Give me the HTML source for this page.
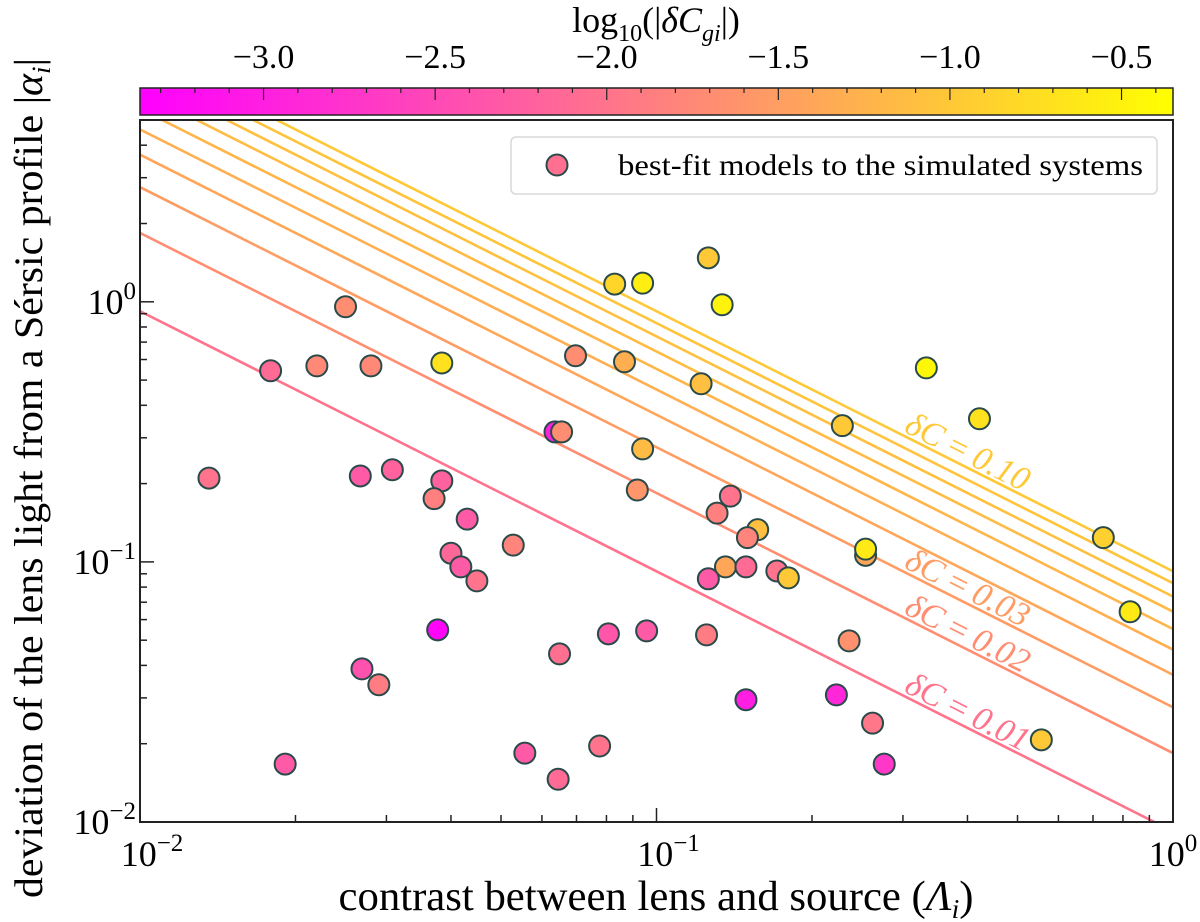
<!DOCTYPE html>
<html><head><meta charset="utf-8"><style>
html,body{margin:0;padding:0;background:#fff;}
svg{display:block;font-family:"Liberation Serif","DejaVu Serif",serif;}
</style></head><body>
<svg id="chart" width="1200" height="922" viewBox="0 0 1200 922" xmlns="http://www.w3.org/2000/svg">
<defs><linearGradient id="cmap" x1="0" x2="1" y1="0" y2="0"><stop offset="0" stop-color="#ff00ff"/><stop offset="1" stop-color="#ffff00"/></linearGradient>
<clipPath id="plotclip"><rect x="140" y="120" width="1033" height="702"/></clipPath></defs>
<g id="cbar"></g>
<g id="lines" clip-path="url(#plotclip)"></g>
<g id="points"></g>
<g id="axes"></g>
</svg>
<script>
// data
const lambdaVals=[0.0250,0.0179,0.0220,0.0280,0.0384,0.0136,0.0267,0.0308,0.0384,0.0371,0.0430,0.0400,0.0418,0.0449,0.0377,0.0269,0.0290,0.0191,0.126,0.0830,0.0940,0.134,0.0697,0.0867,0.122,0.0636,0.0655,0.0940,0.229,0.0918,0.139,0.131,0.157,0.150,0.0528,0.136,0.149,0.126,0.171,0.180,0.0807,0.0957,0.125,0.0649,0.149,0.223,0.0556,0.0776,0.0645,0.254,0.254,0.733,0.826,0.236,0.262,0.276,0.556,0.333,0.422];
const alphaVals=[0.957,0.543,0.567,0.567,0.582,0.210,0.214,0.226,0.205,0.175,0.146,0.108,0.0957,0.0845,0.0548,0.0388,0.0337,0.0167,1.476,1.17,1.18,0.974,0.620,0.588,0.484,0.316,0.316,0.272,0.334,0.189,0.179,0.154,0.133,0.124,0.116,0.0957,0.0957,0.0861,0.0923,0.0868,0.0529,0.0543,0.0524,0.0443,0.0295,0.0308,0.0184,0.0196,0.0146,0.106,0.112,0.124,0.0643,0.0497,0.0240,0.0167,0.0207,0.557,0.355];
const logDC=[-1.7,-2.1,-1.75,-1.75,-0.7,-2.0,-2.3,-2.2,-2.2,-1.85,-2.3,-2.15,-2.3,-2.0,-3.3,-2.4,-1.9,-2.3,-1.0,-0.85,-0.55,-0.5,-1.7,-1.3,-1.1,-3.0,-1.7,-1.15,-1.0,-1.6,-2.0,-1.85,-1.1,-1.8,-1.8,-1.4,-2.1,-2.3,-2.0,-1.0,-2.35,-2.3,-1.9,-2.05,-3.0,-2.9,-2.3,-2.0,-2.1,-1.4,-0.6,-0.9,-0.6,-1.65,-1.95,-2.7,-1.0,-0.45,-0.7];
const contourLevels=[0.01,0.02,0.03,0.04,0.05,0.06,0.07,0.08,0.09,0.10];
const contourK=0.92; // alpha*Lambda = contourK*dC
const labeledLevels=[0.01,0.02,0.03,0.10];
const xTicks=[-2,-1,0];
const yTicks=[-2,-1,0];
const cbTicks=[-3.0,-2.5,-2.0,-1.5,-1.0,-0.5];
const cbMin=-3.36, cbMax=-0.35;

const NS="http://www.w3.org/2000/svg";
const X0=140,X1=1173,Y0=120,Y1=822;
const xLmin=-2,xLmax=0, yLmin=-2, yLmax=Math.log10(5);
function sx(v){return X0+(Math.log10(v)-xLmin)/(xLmax-xLmin)*(X1-X0);}
function sy(v){return Y1-(Math.log10(v)-yLmin)/(yLmax-yLmin)*(Y1-Y0);}
function cmap(l){let t=(l-cbMin)/(cbMax-cbMin);t=Math.max(0,Math.min(1,t));return `rgb(255,${Math.round(255*t)},${Math.round(255*(1-t))})`;}
function mk(tag,attrs,parent){const e=document.createElementNS(NS,tag);for(const k in attrs)e.setAttribute(k,attrs[k]);parent.appendChild(e);return e;}
const cbar=document.getElementById('cbar'),linesG=document.getElementById('lines'),pts=document.getElementById('points'),axes=document.getElementById('axes');

// colorbar
let cb=mk('rect',{x:X0,y:88,width:X1-X0,height:27,fill:'url(#cmap)',stroke:'#222','stroke-width':1.5},cbar);


function cbx(v){return X0+(v-cbMin)/(cbMax-cbMin)*(X1-X0);}
function cbCheckMajor(v){return cbTicks.some(c=>Math.abs(c-v)<0.01);}
for(let v=-3.3;v<=-0.35;v+=0.1){const x=cbx(v);const major=cbCheckMajor(v);const t=mk('line',{x1:x,x2:x,y1:88,y2:major?100:93,stroke:'#222','stroke-width':1.2},cbar);}
cbTicks.forEach(v=>{const t=mk('text',{x:cbx(v),y:68,'font-size':34,'text-anchor':'middle',fill:'#000'},cbar);t.textContent='\u2212'+Math.abs(v).toFixed(1);});
let cbt=mk('text',{x:656,y:32,'font-size':36,'text-anchor':'middle',fill:'#000'},cbar);
cbt.innerHTML='log<tspan font-size="24" dy="9">10</tspan><tspan dy="-9">(|</tspan><tspan font-style="italic">δC</tspan><tspan font-size="24" dy="9" font-style="italic">gi</tspan><tspan dy="-9">|)</tspan>';



// contour lines
contourLevels.forEach(d=>{const col=cmap(Math.log10(d));const la=0.005,lb=1.1;
 const l=mk('line',{x1:sx(la),y1:sy(contourK*d/la),x2:sx(lb),y2:sy(contourK*d/lb),stroke:col,'stroke-width':2.6},linesG);
 
 });
const ang=Math.atan2(sy(contourK*0.01/1)-sy(contourK*0.01/0.1),sx(1)-sx(0.1))*180/Math.PI;
labeledLevels.forEach(d=>{const col=cmap(Math.log10(d));const lx=0.30;const x=sx(lx);const y=sy(contourK*d/lx)-4;
 const t=mk('text',{x:x,y:y,'font-size':34,fill:col,'font-style':'italic',transform:`rotate(${ang} ${x} ${y})`},axes);
 t.innerHTML='δC<tspan font-style="normal"> = </tspan>'+d.toFixed(2);
 
 });

// points
lambdaVals.forEach((lv,i)=>{const c=mk('circle',{cx:sx(lv),cy:sy(alphaVals[i]),r:10.5,fill:cmap(logDC[i]),stroke:'#2a4a4a','stroke-width':2},pts);
 
 });

// frame
let fr=mk('rect',{x:X0,y:Y0,width:X1-X0,height:Y1-Y0,fill:'none',stroke:'#222','stroke-width':2},axes);


for(let e=-2;e<0;e++){for(let m=1;m<10;m++){const v=m*Math.pow(10,e);const x=sx(v);const len=m===1?14:7;
 const t=mk('line',{x1:x,x2:x,y1:Y1,y2:Y1-len,stroke:'#222','stroke-width':1.5},axes);}}
for(let e=-2;e<=0;e++){for(let m=1;m<10;m++){const v=m*Math.pow(10,e);if(v>5)break;const y=sy(v);const len=m===1?14:7;
 const t=mk('line',{x1:X0,x2:X0+len,y1:y,y2:y,stroke:'#222','stroke-width':1.5},axes);}}
xTicks.forEach(e=>{const t=mk('text',{x:sx(Math.pow(10,e))+(e===0?0:12),y:866,'font-size':36,'text-anchor':'middle',fill:'#000'},axes);
 t.innerHTML='10<tspan font-size="25" dy="-15">'+(e<0?'\u2212'+(-e):'0')+'</tspan>';
 });
yTicks.forEach(e=>{const t=mk('text',{x:136,y:sy(Math.pow(10,e))+12,'font-size':36,'text-anchor':'end',fill:'#000'},axes);
 t.innerHTML='10<tspan font-size="25" dy="-15">'+(e<0?'\u2212'+(-e):'0')+'</tspan>';
 });
let xt=mk('text',{x:656,y:910,'font-size':42,'text-anchor':'middle',fill:'#000',textLength:635,lengthAdjust:'spacingAndGlyphs'},axes);
xt.innerHTML='contrast between lens and source (<tspan font-style="italic">Λ</tspan><tspan font-size="27" dy="8" font-style="italic">i</tspan><tspan dy="-8">)</tspan>';

let yt=mk('text',{x:0,y:0,'font-size':40,'text-anchor':'middle',fill:'#000',transform:'translate(42,478) rotate(-90)',textLength:840,lengthAdjust:'spacingAndGlyphs'},axes);
yt.innerHTML='deviation of the lens light from a Sérsic profile |<tspan font-style="italic">α</tspan><tspan font-size="26" dy="8" font-style="italic">i</tspan><tspan dy="-8">|</tspan>';

let lg=mk('g',{},axes);
mk('rect',{x:511,y:137,width:646,height:57,rx:5,fill:'#fff','fill-opacity':0.85,stroke:'#d8d8d8','stroke-width':1.5},lg);
let lm=mk('circle',{cx:557,cy:165,r:10.5,fill:cmap(-2.05),stroke:'#2a4a4a','stroke-width':2},lg);

let lt=mk('text',{x:618,y:175,'font-size':30,fill:'#000',textLength:525,lengthAdjust:'spacingAndGlyphs'},lg);
lt.textContent='best-fit models to the simulated systems';

</script>
</body></html>
